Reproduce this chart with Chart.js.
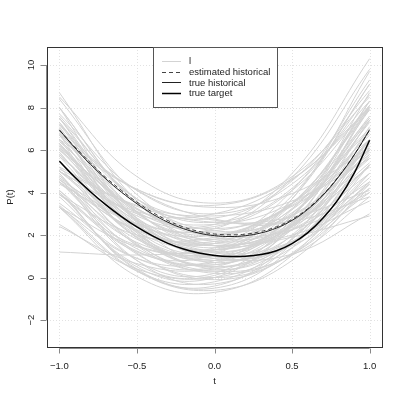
<!DOCTYPE html>
<html>
<head>
<meta charset="utf-8">
<script src="https://cdn.jsdelivr.net/npm/chart.js@4.4.1/dist/chart.umd.min.js"></script>
<style>
  html, body { margin: 0; padding: 0; background: #fff; }
  #wrap { width: 407px; height: 407px; }
</style>
</head>
<body>
<div id="wrap"><canvas id="chart" width="407" height="407"></canvas></div>
<script>
// sampled curves, each read at t = -1, -0.5, 0, 0.5, 1
const tSample = [-1, -0.5, 0, 0.5, 1];
const sampleCurves = [
  [5.5, 2.0, 1.0, 2.5, 6.5], [5.0, 2.5, 2.0, 3.5, 7.0], [6.5, 2.0, 0.5, 2.0, 6.5],
  [7.5, 3.1, 1.5, 2.6, 6.5], [3.3, 0.3, -0.2, 1.8, 6.3], [5.0, 3.0, 2.5, 3.5, 6.0],
  [6.3, 2.1, 0.8, 2.9, 8.3], [6.2, 2.7, 1.2, 1.7, 4.2], [5.0, 3.1, 3.0, 4.6, 8.0],
  [4.0, 0.5, 0.0, 2.5, 8.0], [6.8, 3.05, 1.8, 3.05, 6.8], [4.0, 0.4, -0.5, 1.4, 6.0],
  [7.5, 3.7, 2.2, 2.9, 5.9], [6.0, 2.6, 1.0, 1.1, 3.0], [7.1, 2.1, 0.6, 2.6, 8.1],
  [6.8, 3.55, 2.8, 4.55, 8.8], [3.9, 1.5, 1.4, 3.5, 7.9], [4.8, 1.55, 0.3, 1.05, 3.8],
  [6.1, 2.35, 1.6, 3.85, 9.1], [6.9, 2.65, 0.9, 1.65, 4.9], [6.9, 4.15, 3.4, 4.65, 7.9],
  [4.9, 0.8, -0.3, 1.6, 6.5], [4.1, 1.2, 1.1, 3.7, 9.1], [8.0, 3.5, 2.0, 3.5, 8.0],
  [2.4, 0.65, 0.4, 1.65, 4.4], [5.0, 2.15, 1.3, 2.45, 5.6], [5.1, 3.35, 2.6, 2.85, 4.1],
  [4.5, 1.35, 0.7, 2.55, 6.9], [8.4, 3.9, 1.9, 2.4, 5.4], [4.7, 0.8, 0.2, 2.8, 8.7],
  [4.5, 2.25, 1.5, 2.25, 4.5], [5.8, 2.7, 2.3, 4.7, 9.8], [4.5, 1.1, 0.0, 1.1, 4.5],
  [7.5, 2.75, 1.0, 2.25, 6.5], [7.2, 3.7, 2.7, 2.7, 5.2], [3.4, 0.3, -0.6, 0.8, 4.4],
  [4.7, 2.2, 1.7, 3.2, 6.7], [5.7, 1.85, 0.5, 1.65, 5.3], [7.7, 4.1, 3.0, 4.4, 8.3],
  [6.7, 2.2, 1.2, 3.7, 9.7], [4.6, 1.8, 0.8, 1.5, 4.0], [5.8, 2.45, 1.6, 3.25, 7.4],
  [6.4, 3.25, 2.1, 2.95, 5.8], [3.8, 0.6, 0.1, 2.4, 7.4], [7.2, 2.8, 1.4, 3.0, 7.6],
  [5.7, 2.9, 2.4, 4.1, 8.1], [3.9, 1.25, 0.6, 1.95, 5.3], [6.3, 2.5, 1.0, 1.7, 4.7],
  [7.3, 3.1, 1.8, 4.1, 9.3], [4.9, 1.15, -0.1, 1.15, 4.9], [5.2, 3.4, 2.9, 3.6, 5.6],
  [4.5, 1.65, 1.3, 3.45, 8.1], [7.0, 2.2, 0.4, 1.6, 5.8], [6.5, 3.0, 2.0, 3.5, 7.5],
  [3.3, 1.45, 1.1, 2.25, 4.9], [5.9, 1.9, 0.9, 2.9, 7.9], [6.5, 4.15, 3.3, 3.95, 6.1],
  [6.3, 2.8, 1.5, 2.5, 5.7], [5.5, 1.5, 0.3, 1.8, 6.1], [6.7, 3.1, 2.5, 4.9, 10.3],
  [8.0, 3.5, 1.7, 2.7, 6.4], [2.5, 0.4, 0.0, 1.4, 4.5], [4.4, 2.55, 2.2, 3.35, 6.0],
  [1.2, 1.06, 1.3, 1.9, 2.9], [6.2, 2.45, 1.2, 2.45, 6.2], [8.0, 2.6, 0.7, 2.3, 7.4],
  [7.6, 3.7, 2.6, 4.2, 8.6], [4.1, 0.35, -0.4, 1.85, 7.1], [3.9, 2.0, 1.9, 3.5, 6.9],
  [3.5, 0.9, 0.5, 2.4, 6.5], [6.0, 3.25, 2.0, 2.25, 4.0], [5.5, 1.9, 1.0, 2.9, 7.5],
  [8.5, 4.75, 3.5, 4.75, 8.5], [4.6, 2.5, 1.6, 2.0, 3.6], [5.2, 1.6, 0.2, 1.1, 4.2],
  [7.3, 2.7, 1.3, 3.2, 8.3], [6.1, 3.2, 2.3, 3.4, 6.5], [3.3, 0.9, 0.8, 2.9, 7.3],
  [3.3, 0.05, -0.7, 1.05, 5.3], [8.7, 3.6, 1.5, 2.4, 6.3], [6.7, 4.1, 2.75, 2.65, 3.8]
];

// reference curves, read at t = -1, -0.9, ..., 1
const tFine = [-1, -0.9, -0.8, -0.7, -0.6, -0.5, -0.4, -0.3, -0.2, -0.1, 0,
               0.1, 0.2, 0.3, 0.4, 0.5, 0.6, 0.7, 0.8, 0.9, 1];
const estimatedHistorical = [6.92, 6.15, 5.4, 4.71, 4.1, 3.55, 3.07, 2.68, 2.38, 2.17, 2.05,
                             2.01, 2.04, 2.17, 2.39, 2.74, 3.24, 3.91, 4.76, 5.77, 6.94];
const trueHistorical = [6.95, 6.1, 5.33, 4.64, 4.02, 3.47, 2.99, 2.6, 2.3, 2.09, 1.97,
                        1.93, 1.97, 2.1, 2.33, 2.69, 3.2, 3.88, 4.74, 5.76, 6.96];
const trueTarget = [5.47, 4.72, 4.04, 3.42, 2.87, 2.38, 1.96, 1.61, 1.34, 1.15, 1.04,
                    0.99, 1.0, 1.08, 1.26, 1.6, 2.1, 2.8, 3.7, 4.9, 6.46];

const xTicks = [-1, -0.5, 0, 0.5, 1];
const xTickLabels = ["\u22121.0", "\u22120.5", "0.0", "0.5", "1.0"];
const yTicks = [-2, 0, 2, 4, 6, 8, 10];
const yTickLabels = ["\u22122", "0", "2", "4", "6", "8", "10"];
const legendLabels = ["l", "estimated historical", "true historical", "true target"];

const FONT = "9.5px 'Liberation Sans', Arial, sans-serif";
const GRAY = "#d3d3d3";

const toPoints = (ts, ys) => ys.map((y, i) => ({ x: ts[i], y: y }));

const datasets = sampleCurves.map(vals => ({
  data: toPoints(tSample, vals),
  borderColor: GRAY,
  borderWidth: 1,
  order: 10
}));
datasets.push({
  data: toPoints(tFine, estimatedHistorical),
  borderColor: "#444",
  borderWidth: 1,
  borderDash: [4, 3],
  order: 2
});
datasets.push({
  data: toPoints(tFine, trueHistorical),
  borderColor: "#222",
  borderWidth: 1,
  order: 1
});
datasets.push({
  data: toPoints(tFine, trueTarget),
  borderColor: "#000",
  borderWidth: 1.5,
  order: 0
});

// R-style axes, grid, box and legend
const baseAxes = {
  id: "baseAxes",
  beforeDatasetsDraw(chart) {
    const { ctx, chartArea: a, scales: { x, y } } = chart;
    ctx.save();
    ctx.strokeStyle = "#e2e2e2";
    ctx.lineWidth = 1;
    ctx.setLineDash([1, 2]);
    xTicks.forEach(v => {
      const px = Math.round(x.getPixelForValue(v)) + 0.5;
      ctx.beginPath(); ctx.moveTo(px, a.top); ctx.lineTo(px, a.bottom); ctx.stroke();
    });
    yTicks.forEach(v => {
      const py = Math.round(y.getPixelForValue(v)) + 0.5;
      ctx.beginPath(); ctx.moveTo(a.left, py); ctx.lineTo(a.right, py); ctx.stroke();
    });
    ctx.restore();
  },
  afterDatasetsDraw(chart) {
    const { ctx, chartArea: a, scales: { x, y } } = chart;
    ctx.save();
    // box
    ctx.strokeStyle = "#333";
    ctx.lineWidth = 1;
    ctx.strokeRect(Math.round(a.left) + 0.5, Math.round(a.top) + 0.5,
                   Math.round(a.right - a.left), Math.round(a.bottom - a.top));

    // x axis
    const axY = Math.round(a.bottom) + 1.5;
    ctx.strokeStyle = "#888";
    ctx.beginPath();
    ctx.moveTo(x.getPixelForValue(xTicks[0]), axY);
    ctx.lineTo(x.getPixelForValue(xTicks[xTicks.length - 1]), axY);
    xTicks.forEach(v => {
      const px = Math.round(x.getPixelForValue(v)) + 0.5;
      ctx.moveTo(px, axY); ctx.lineTo(px, axY + 5);
    });
    ctx.stroke();

    ctx.fillStyle = "#222";
    ctx.font = FONT;
    ctx.textAlign = "center";
    ctx.textBaseline = "middle";
    xTicks.forEach((v, i) => {
      ctx.fillText(xTickLabels[i], x.getPixelForValue(v), 366);
    });
    ctx.fillText("t", (a.left + a.right) / 2, 381);

    // y axis
    const axX = Math.round(a.left) - 0.5;
    ctx.beginPath();
    ctx.moveTo(axX, y.getPixelForValue(yTicks[0]));
    ctx.lineTo(axX, y.getPixelForValue(yTicks[yTicks.length - 1]));
    yTicks.forEach(v => {
      const py = Math.round(y.getPixelForValue(v)) + 0.5;
      ctx.moveTo(axX, py); ctx.lineTo(axX - 6, py);
    });
    ctx.stroke();

    yTicks.forEach((v, i) => {
      ctx.save();
      ctx.translate(31, y.getPixelForValue(v));
      ctx.rotate(-Math.PI / 2);
      ctx.fillText(yTickLabels[i], 0, 0);
      ctx.restore();
    });
    ctx.save();
    ctx.translate(10, (a.top + a.bottom) / 2);
    ctx.rotate(-Math.PI / 2);
    ctx.fillText("P(t)", 0, 0);
    ctx.restore();

    // legend
    const lx = 153.5, ly = 47.5, lw = 124, lh = 60;
    ctx.fillStyle = "#fff";
    ctx.fillRect(lx, ly, lw, lh);
    ctx.strokeStyle = "#555";
    ctx.strokeRect(lx, ly, lw, lh);
    const styles = [
      { color: GRAY, width: 1, dash: [] },
      { color: "#444", width: 1, dash: [4, 3] },
      { color: "#222", width: 1, dash: [] },
      { color: "#000", width: 1.5, dash: [] }
    ];
    legendLabels.forEach((label, i) => {
      const ry = 61 + i * 10.7;
      const s = styles[i];
      ctx.strokeStyle = s.color;
      ctx.lineWidth = s.width;
      ctx.setLineDash(s.dash);
      ctx.beginPath();
      ctx.moveTo(162, Math.round(ry) + 0.5);
      ctx.lineTo(181, Math.round(ry) + 0.5);
      ctx.stroke();
      ctx.setLineDash([]);
      ctx.fillStyle = "#222";
      ctx.textAlign = "left";
      ctx.fillText(label, 189, ry + 0.5);
    });
    ctx.restore();
  }
};

new Chart(document.getElementById("chart"), {
  type: "line",
  data: { datasets: datasets },
  options: {
    responsive: false,
    animation: false,
    events: [],
    layout: { padding: { left: 47, right: 25, top: 47, bottom: 60 } },
    elements: {
      point: { radius: 0 },
      line: { tension: 0.4, fill: false }
    },
    plugins: {
      legend: { display: false },
      tooltip: { enabled: false }
    },
    scales: {
      x: { type: "linear", min: -1.08, max: 1.08, display: false },
      y: { type: "linear", min: -3.27, max: 10.85, display: false }
    }
  },
  plugins: [baseAxes]
});
</script>
</body>
</html>
